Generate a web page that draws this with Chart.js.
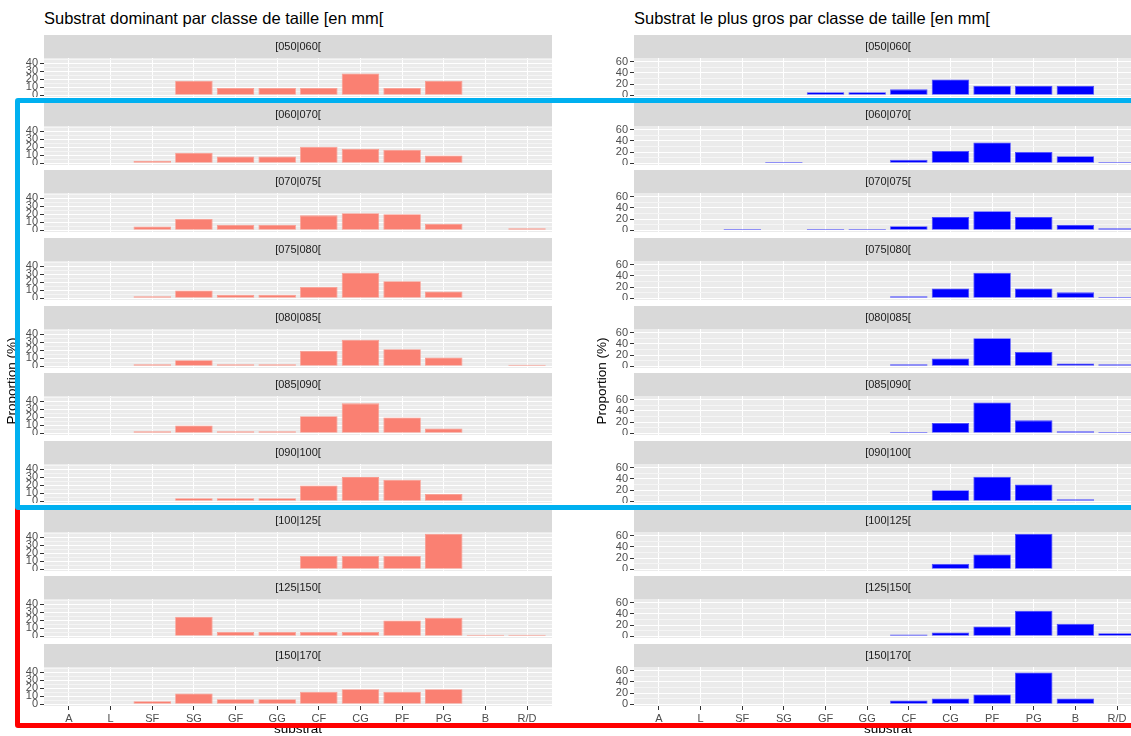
<!DOCTYPE html>
<html>
<head>
<meta charset="utf-8">
<script src="https://cdn.jsdelivr.net/npm/chart.js@4.4.1/dist/chart.umd.min.js"></script>
<style>
	body { margin: 0; background: #fff; overflow: hidden; }
	#page { position: relative; width: 1131px; height: 736px; overflow: hidden; font-family: "Liberation Sans", Arial, sans-serif; color: #000; }
	#page canvas { position: absolute; }
	.titre { position: absolute; white-space: nowrap; font-size: 16.5px; line-height: 16.5px; }
	.axe-y { position: absolute; width: 200px; height: 20px; line-height: 20px; text-align: center; font-size: 13.5px; white-space: nowrap; transform: rotate(-90deg); }
	.axe-x { position: absolute; width: 200px; text-align: center; font-size: 13.5px; line-height: 13.5px; }
	.cadre { position: absolute; box-sizing: border-box; border-style: solid; border-width: 5px; border-radius: 3px; }
</style>
</head>
<body>
<div id="page">
	<div class="titre" style="left:44px;top:10px;">Substrat dominant par classe de taille [en mm[</div>
	<div class="titre" style="left:634px;top:10px;">Substrat le plus gros par classe de taille [en mm[</div>
</div>
<script>
	// substrate categories (x axis) and size classes (one panel each)
	var substrats = ['A', 'L', 'SF', 'SG', 'GF', 'GG', 'CF', 'CG', 'PF', 'PG', 'B', 'R/D'];
	var classes = ['[050|060[', '[060|070[', '[070|075[', '[075|080[', '[080|085[', '[085|090[', '[090|100[', '[100|125[', '[125|150[', '[150|170['];

	// proportion (%) of dominant substrate, one row per size class
	var dominant = [
		[null, null, null, 18.2, 9.1, 9.1, 9.1, 27.3, 9.1, 18.2, null, null],
		[null, null, 3.0, 13.0, 8.4, 8.4, 20.6, 18.0, 16.8, 9.7, null, null],
		[null, null, 4.8, 14.0, 7.0, 7.0, 18.6, 21.2, 20.0, 8.0, null, 2.4],
		[null, null, 2.5, 9.7, 4.2, 4.2, 14.2, 31.9, 21.4, 8.4, null, null],
		[null, null, 2.5, 7.6, 2.5, 2.5, 19.3, 33.1, 21.4, 11.0, null, 1.8],
		[null, null, 2.5, 9.7, 2.5, 2.5, 21.4, 37.4, 19.8, 5.9, null, null],
		[null, null, null, 3.8, 3.8, 3.8, 19.8, 30.2, 26.8, 9.2, null, null],
		[null, null, null, null, null, null, 16.7, 16.7, 16.7, 44.4, null, null],
		[null, null, null, 24.3, 5.4, 5.4, 5.4, 5.4, 19.8, 23.0, 1.8, 1.8],
		[null, null, 3.8, 13.5, 6.3, 6.3, 15.5, 18.9, 15.5, 18.9, null, null]
	];

	// proportion (%) of largest substrate, one row per size class
	var plusGros = [
		[null, null, null, null, 5.5, 5.5, 10.5, 28.0, 17.0, 17.0, 17.0, null],
		[null, null, null, 2.2, null, null, 6.0, 22.0, 37.0, 20.0, 12.5, 2.0],
		[null, null, 2.0, null, 2.0, 2.0, 7.0, 23.5, 34.0, 23.5, 10.0, 3.5],
		[null, null, null, null, null, null, 3.5, 17.5, 45.5, 17.5, 10.5, 2.0],
		[null, null, null, null, null, null, 3.5, 14.0, 50.0, 25.5, 5.0, 3.5],
		[null, null, null, null, null, null, 2.0, 18.5, 55.0, 23.0, 3.5, 2.0],
		[null, null, null, null, null, null, null, 19.8, 43.7, 30.0, 3.5, null],
		[null, null, null, null, null, null, null, 9.6, 26.3, 63.4, null, null],
		[null, null, null, null, null, null, 3.0, 6.6, 17.4, 45.5, 22.1, 5.4],
		[null, null, null, null, null, null, 6.6, 10.2, 17.4, 56.9, 10.2, null]
	];

	var ticksDominant = [0, 10, 20, 30, 40];
	var ticksPlusGros = [0, 20, 40, 60];

	// facet layout
	var STRIP_TOP = 35, PITCH = 67.67, STRIP_H = 23, PLOT_H = 39, AXIS_W = 44, XAXIS_H = 20;
	var FONT = '"Liberation Sans", Arial, sans-serif';

	Chart.defaults.font.family = FONT;

	var page = document.getElementById('page');

	// grey strip with the class label + grey panel background
	var facetPlugin = {
		id: 'facet',
		beforeDraw: function(chart, args, opts){
			var ctx = chart.ctx, a = chart.chartArea;
			ctx.save();
			ctx.fillStyle = '#D9D9D9';
			ctx.fillRect(a.left, 0, a.right - a.left, STRIP_H);
			ctx.fillStyle = '#EBEBEB';
			ctx.fillRect(a.left, a.top, a.right - a.left, a.bottom - a.top);
			ctx.fillStyle = '#1A1A1A';
			ctx.font = '11px ' + FONT;
			ctx.textAlign = 'center';
			ctx.textBaseline = 'middle';
			ctx.fillText(opts.text, (a.left + a.right) / 2, STRIP_H / 2 + 0.5);
			ctx.restore();
		}
	};

	function ggRange(rows){
		var m = 0;
		rows.forEach(function(r){ r.forEach(function(v){ if(v != null && v > m) m = v; }); });
		return { min: -0.05 * m, max: 1.05 * m };
	}

	function drawPanel(col, k){
		var last = (k == classes.length - 1),
			h = STRIP_H + PLOT_H + (last ? XAXIS_H : 0),
			canvas = document.createElement('canvas'),
			major = col.ticks[1] - col.ticks[0],
			minor = [];

		for(var v = 0; v <= col.range.max; v += major / 2) minor.push(v);

		canvas.width = col.width;
		canvas.height = h;
		canvas.style.left = col.left + 'px';
		canvas.style.top = Math.round(STRIP_TOP + k * PITCH) + 'px';
		page.appendChild(canvas);

		var values = col.data[k].map(function(v, i){ return { x: i, y: v }; });

		new Chart(canvas.getContext('2d'), {
			type: 'bar',
			data: { datasets: [ {
				data: values,
				backgroundColor: col.fill,
				borderColor: col.edge,
				borderWidth: 0.8,
				borderSkipped: false,
				categoryPercentage: 0.9,
				barPercentage: 1
			} ] },
			options: {
				responsive: false,
				animation: false,
				events: [],
				layout: { padding: { top: STRIP_H, left: 0, right: 0, bottom: 0 } },
				plugins: {
					legend: { display: false },
					tooltip: { enabled: false },
					facet: { text: classes[k] }
				},
				scales: {
					x: {
						type: 'linear',
						min: -0.6,
						max: substrats.length - 0.4,
						offset: false,
						afterBuildTicks: function(s){ s.ticks = substrats.map(function(c, i){ return { value: i }; }); },
						afterFit: function(s){ s.height = last ? XAXIS_H : 0; s.paddingLeft = 0; s.paddingRight = 0; },
						ticks: {
							display: last,
							autoSkip: false,
							maxRotation: 0,
							padding: 2,
							color: '#4D4D4D',
							font: { size: 11 },
							callback: function(v){ return substrats[v]; }
						},
						grid: { offset: false, color: '#FFFFFF', lineWidth: 1, drawTicks: last, tickLength: 4, tickColor: '#333333' },
						border: { display: false }
					},
					y: {
						min: col.range.min,
						max: col.range.max,
						afterBuildTicks: function(s){ s.ticks = minor.map(function(v){ return { value: v }; }); },
						afterFit: function(s){ s.width = AXIS_W; s.paddingTop = 0; s.paddingBottom = 0; },
						ticks: {
							autoSkip: false,
							padding: 2,
							color: '#4D4D4D',
							font: { size: 11 },
							callback: function(v){ return v % major == 0 ? String(v) : ''; }
						},
						grid: {
							color: function(c){ return c.tick && c.tick.value % major == 0 ? '#FFFFFF' : '#F5F5F5'; },
							lineWidth: 1,
							tickLength: 4,
							tickColor: function(c){ return c.tick && c.tick.value % major == 0 ? '#333333' : 'rgba(0,0,0,0)'; }
						},
						border: { display: false }
					}
				}
			},
			plugins: [ facetPlugin ]
		});
	}

	var columns = [
		{ left: 0, width: 552, data: dominant, ticks: ticksDominant, fill: '#FA8072', edge: '#FB9A8E' },
		{ left: 590, width: 552, data: plusGros, ticks: ticksPlusGros, fill: '#0000FF', edge: '#4A4AFF' }
	];

	columns.forEach(function(col){
		col.range = ggRange(col.data);
		for(var k = 0; k < classes.length; k++) drawPanel(col, k);
	});

	// axis titles and the two highlight frames, on top of the panels
	var extra = '' +
		'<div class="axe-y" style="left:-88px;top:371px;">Proportion (%)</div>' +
		'<div class="axe-y" style="left:502px;top:371px;">Proportion (%)</div>' +
		'<div class="axe-x" style="left:198px;top:722px;">substrat</div>' +
		'<div class="axe-x" style="left:788px;top:722px;">substrat</div>' +
		'<div class="cadre" style="left:15px;top:505px;width:1200px;height:223px;border-color:#FF0000;"></div>' +
		'<div class="cadre" style="left:15px;top:98px;width:1200px;height:412px;border-color:#00B0F0;"></div>';
	page.insertAdjacentHTML('beforeend', extra);
</script>
</body>
</html>
